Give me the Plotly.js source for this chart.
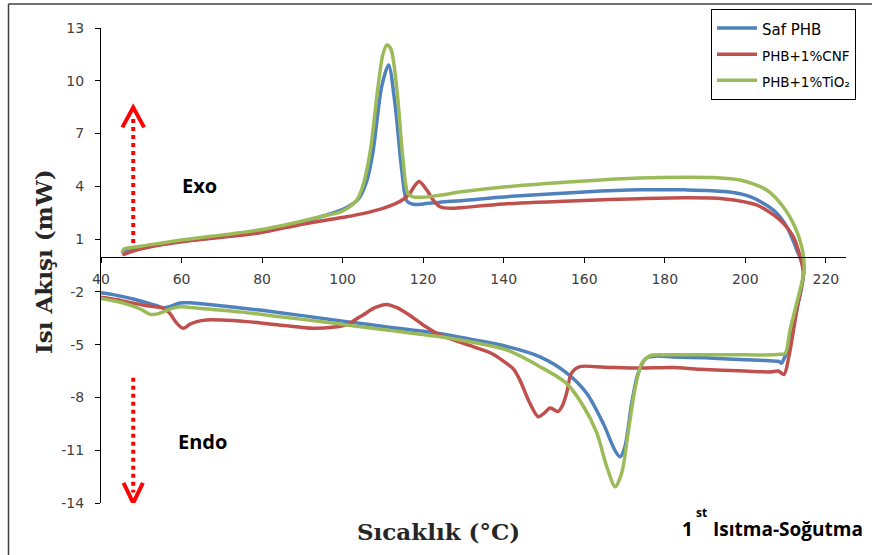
<!DOCTYPE html>
<html><head><meta charset="utf-8">
<script src="https://cdn.plot.ly/plotly-3.0.1.min.js"></script>
<style>html,body{margin:0;padding:0;background:#fff}#chart{width:872px;height:555px}</style>
</head><body><div id="chart"></div>
<script>
// ---- data (temperature °C, heat flow mW), path order: heating then cooling ----
const seriesNames = ['Saf PHB', 'PHB+1%CNF', 'PHB+1%TiO₂'];

const safX = [40,44,48,52,55.5,57.5,59.6,62,68,80,90,101,112,124,132,140.7,149,155.6,160.6,164.7,167.6,168.9,170.1,171.8,173.4,175.5,178,182,190,198.7,205,208.3,209,209.6,210.8,212.8,214.5,
  212.8,210.3,207,201.2,195,185,174,160,140,130,124.2,120,117.8,116,114.7,113,111.4,109.7,107.5,106,104,101,95,80,60,50,46,45.2];
const safY = [-2.05,-2.2,-2.4,-2.65,-2.9,-2.8,-2.63,-2.62,-2.75,-3.05,-3.35,-3.69,-4.02,-4.36,-4.7,-5.1,-5.69,-6.6,-7.76,-9.47,-11.0,-11.37,-10.8,-8.3,-6.6,-5.75,-5.65,-5.7,-5.75,-5.85,-5.9,-5.95,-6.05,-5.8,-5.1,-3.0,-0.75,
  0.38,1.7,2.65,3.41,3.7,3.8,3.8,3.68,3.4,3.2,3.1,3.0,2.97,3.15,4.9,8.7,10.9,9.67,5.9,4.3,3.3,2.8,2.3,1.42,0.88,0.55,0.35,0.2];

const cnfX = [40,44,47.2,52,55.5,57.1,58.7,60.4,62,63.8,66.2,70,76.2,85,92.7,98,101,103,105.1,108,111,113.5,115.9,118,120,124.2,132.5,137,140.7,142.5,144,146.5,148.6,150,151.5,152.5,153.5,154.5,155.6,156.8,158.9,165,173.8,182,188.7,200,206,208.2,209.6,210.8,212.8,214.4,
  213.6,211.9,208.6,202.8,194.4,185,173.8,160,140,130,127,124.2,122.5,120.9,119,117.8,116.7,115,113,110,105,101,90,79.5,70,60,50,45.3];
const cnfY = [-2.3,-2.45,-2.61,-2.8,-2.94,-3.22,-3.75,-4.07,-3.85,-3.69,-3.6,-3.6,-3.69,-3.9,-4.07,-4.0,-3.88,-3.6,-3.31,-2.9,-2.71,-2.9,-3.22,-3.55,-3.88,-4.45,-5.12,-5.5,-6.06,-6.4,-7.0,-8.33,-9.1,-8.9,-8.6,-8.7,-8.8,-8.5,-7.77,-6.63,-6.25,-6.28,-6.33,-6.3,-6.4,-6.5,-6.55,-6.5,-6.7,-5.7,-3.0,-0.93,
  0,1.14,2.09,2.94,3.3,3.35,3.3,3.2,3.0,2.8,2.75,2.84,3.22,3.79,4.27,4.0,3.6,3.25,3.0,2.75,2.45,2.27,1.85,1.36,1.1,0.85,0.45,0.1];

const tioX = [40,44,47.2,50,52.2,54,55.5,57.5,59.6,65,75,84.4,95,101,112,124.2,132,140.7,149,155.6,159.8,163.1,165.6,167.7,169.3,171,172.7,174.3,176.4,180,190,200,207,208.6,209.9,211.1,212.8,214.6,
  214,212.3,209.4,205.3,198.7,192,185,173.8,160,140,130,124.2,120,117.5,116.2,115,113.4,112,111,110,108.8,106.8,105,103.5,100,95,80,60,50,47,45.8,45.2];
const tioY = [-2.37,-2.55,-2.75,-3.0,-3.28,-3.25,-3.13,-2.95,-2.84,-2.95,-3.15,-3.41,-3.7,-3.88,-4.2,-4.55,-4.85,-5.3,-6.25,-7.2,-8.5,-10.0,-11.94,-13.08,-12.3,-9.85,-7.39,-6.06,-5.62,-5.58,-5.58,-5.58,-5.58,-5.55,-5.5,-4.17,-2.6,-0.76,
  0.57,1.7,2.84,3.79,4.36,4.5,4.52,4.47,4.3,3.96,3.7,3.5,3.38,3.4,3.6,5.5,9.67,11.8,12.03,11.5,9.67,5.9,4.0,3.22,2.6,2.3,1.55,0.95,0.6,0.5,0.45,0.25];

const xTicks = [40,60,80,100,120,140,160,180,200,220];
const yTicks = [13,10,7,4,1,-2,-5,-8,-11,-14];

// ---- layout helpers ----
const W = 872, H = 555, ML = 101, MR = 26, MT = 28, MB = 52;
const PW = W - ML - MR, PH = H - MT - MB;
const px = v => (v - ML) / PW;
const py = v => (H - MB - v) / PH;

const colors = ['#4F81BD', '#C0504D', '#9BBB59'];
const legendSizes = [15, 13.5, 13.5];
const xs = [safX, cnfX, tioX], ys = [safY, cnfY, tioY];

const traces = seriesNames.map((n, i) => ({
  x: xs[i], y: ys[i], type: 'scatter', mode: 'lines',
  name: '<span style="font-size:' + legendSizes[i] + 'px">' + n + '</span>',
  line: {color: colors[i], width: 3.5, shape: 'spline', smoothing: 0.8}
}));

const red = '#FF0000';
const arrowX = 48;
const shapes = [
  {type: 'line', xref: 'x', yref: 'y', x0: arrowX, x1: arrowX, y0: 0.78, y1: 7.9, line: {color: red, width: 4, dash: 'dot'}},
  {type: 'path', xref: 'x', yref: 'y', path: 'M 45.3,7.35 L 48,8.49 L 50.7,7.35', line: {color: red, width: 4}},
  {type: 'line', xref: 'x', yref: 'y', x0: arrowX, x1: arrowX, y0: -6.88, y1: -13.4, line: {color: red, width: 4, dash: 'dot'}},
  {type: 'path', xref: 'x', yref: 'y', path: 'M 45.6,-12.86 L 48,-14 L 50.4,-12.86', line: {color: red, width: 4}},
  // outer frame (left and top edges)
  {type: 'line', xref: 'paper', yref: 'paper', x0: px(8.5), x1: px(8.5), y0: py(4), y1: py(556), line: {color: '#404040', width: 1.5}},
  {type: 'line', xref: 'paper', yref: 'paper', x0: px(8.5), x1: px(873), y0: py(4), y1: py(4), line: {color: '#404040', width: 1.5}}
];

const annotations = [
  {xref: 'paper', yref: 'paper', x: px(199), y: py(186), text: 'Exo', showarrow: false, xanchor: 'center', yanchor: 'middle',
   font: {family: 'Open Sans', size: 20, weight: 'bold', color: '#000'}},
  {xref: 'paper', yref: 'paper', x: px(202), y: py(441), text: 'Endo', showarrow: false, xanchor: 'center', yanchor: 'middle',
   font: {family: 'Open Sans', size: 20, weight: 'bold', color: '#000'}},
  {xref: 'paper', yref: 'paper', x: px(438), y: py(531), text: 'Sıcaklık (°C)', showarrow: false, xanchor: 'center', yanchor: 'middle',
   font: {family: 'DejaVu Serif', size: 23, weight: 'bold', color: '#262626'}},
  {xref: 'paper', yref: 'paper', x: px(43), y: py(262), text: 'Isı Akışı (mW)', textangle: -90, showarrow: false, xanchor: 'center', yanchor: 'middle',
   font: {family: 'DejaVu Serif', size: 23, weight: 'bold', color: '#262626'}},
  {xref: 'paper', yref: 'paper', x: px(687), y: py(529), text: '1', showarrow: false, xanchor: 'center', yanchor: 'middle',
   font: {family: 'Open Sans', size: 19, weight: 'bold', color: '#000'}},
  {xref: 'paper', yref: 'paper', x: px(701), y: py(512), text: 'st', showarrow: false, xanchor: 'center', yanchor: 'middle',
   font: {family: 'Open Sans', size: 12, weight: 'bold', color: '#000'}},
  {xref: 'paper', yref: 'paper', x: px(711), y: py(529), text: 'Isıtma-Soğutma', showarrow: false, xanchor: 'left', yanchor: 'middle',
   font: {family: 'Open Sans', size: 19, weight: 'bold', color: '#000'}}
];

const tickFont = {family: 'DejaVu Sans', size: 14, color: '#404040'};

const layout = {
  width: W, height: H,
  margin: {l: ML, r: MR, t: MT, b: MB, pad: 0, autoexpand: false},
  paper_bgcolor: '#fff', plot_bgcolor: '#fff',
  showlegend: true,
  legend: {x: px(711), y: py(9), xanchor: 'left', yanchor: 'top', bgcolor: '#fff', bordercolor: '#000', borderwidth: 1,
           font: {family: 'DejaVu Sans', size: 17.8, color: '#000'}, itemwidth: 40, tracegroupgap: 0},
  xaxis: {range: [40, 225], tickvals: xTicks, ticktext: xTicks.map(String), ticks: 'outside', ticklen: 5, tickcolor: '#000', tickwidth: 1,
          showline: true, linecolor: '#000', linewidth: 1, showgrid: false, zeroline: false,
          anchor: 'free', position: (0 - (-14)) / 27, tickfont: tickFont, ticklabelstandoff: 4},
  yaxis: {range: [-14, 13], tickvals: yTicks, ticktext: yTicks.map(String), ticks: 'outside', ticklen: 5, tickcolor: '#000', tickwidth: 1,
          showline: true, linecolor: '#000', linewidth: 1, showgrid: false, zeroline: false, tickfont: tickFont, ticklabelstandoff: 8},
  shapes: shapes,
  annotations: annotations
};

Plotly.newPlot('chart', traces, layout, {displayModeBar: false, staticPlot: true});
</script></body></html>
